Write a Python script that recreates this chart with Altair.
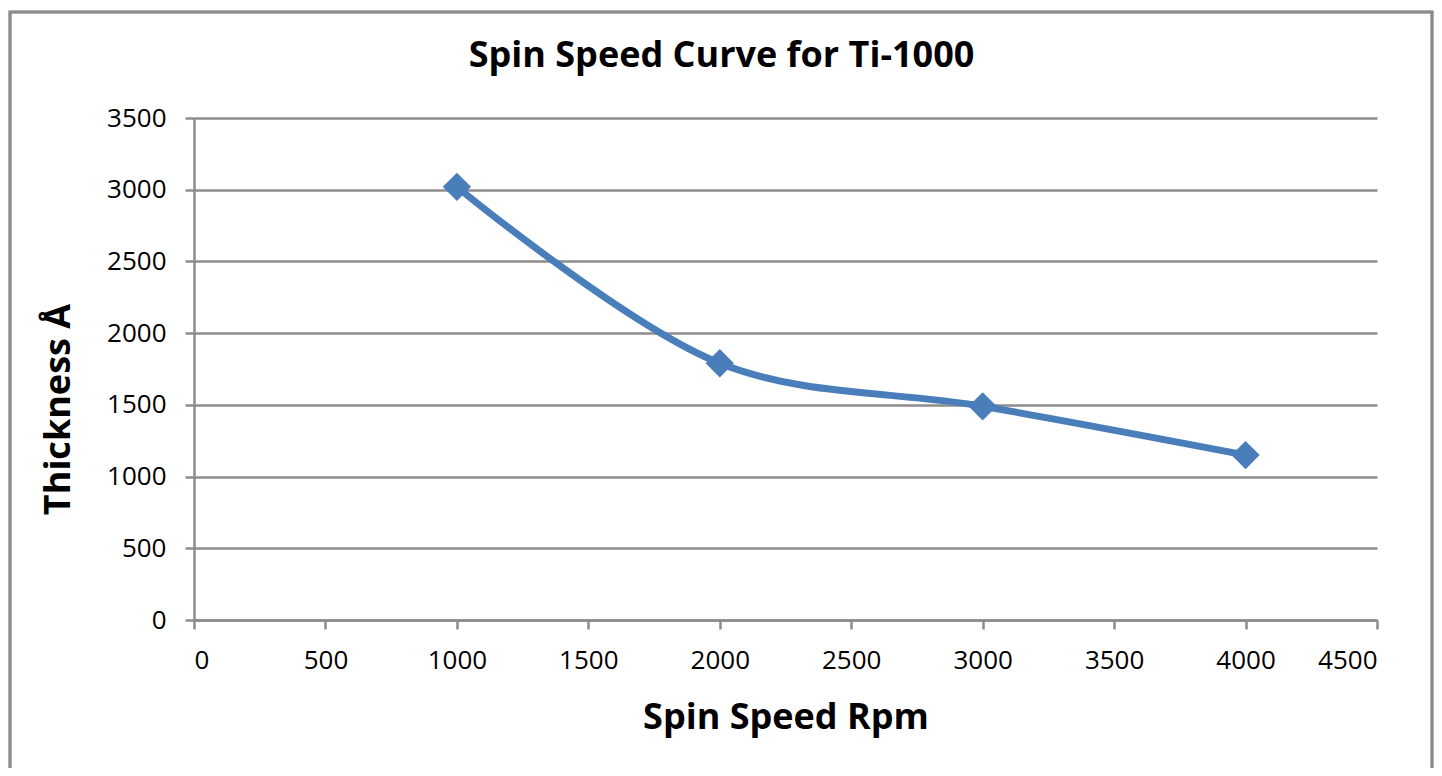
import altair as alt
import pandas as pd

spin_speed = [1000, 2000, 3000, 4000]
thickness = [3020, 1790, 1490, 1150]

df = pd.DataFrame({"speed": spin_speed, "thickness": thickness})

FONT = "Open Sans"
GRAY = "#8c8c8c"
BLUE = "#4A7EBB"

x_enc = alt.X(
    "speed:Q",
    scale=alt.Scale(domain=[0, 4500], nice=False),
    axis=alt.Axis(
        values=list(range(0, 4501, 500)),
        format="d",
        title="Spin Speed Rpm",
        grid=False,
        tickSize=9,
        labelPadding=18,
        titleY=97,
        titleBaseline="middle",
    ),
)
y_enc = alt.Y(
    "thickness:Q",
    scale=alt.Scale(domain=[0, 3500], nice=False),
    axis=alt.Axis(
        values=list(range(0, 3501, 500)),
        format="d",
        title="Thickness Å",
        grid=True,
        tickSize=9,
        labelPadding=19,
        titleX=-136,
        titleY=291,
        titleBaseline="middle",
        titleAngle=-90,
    ),
)

line = alt.Chart(df).mark_line(
    color=BLUE, strokeWidth=7, interpolate="catmull-rom"
).encode(x=x_enc, y=y_enc)

points = alt.Chart(df).mark_point(
    shape="diamond", filled=True, color=BLUE, size=800, opacity=1
).encode(x="speed:Q", y="thickness:Q")

border = alt.Chart(df).mark_rect(
    fill=None, stroke=GRAY, strokeWidth=2.5
).encode(
    x=alt.value(-184), x2=alt.value(1238), y=alt.value(-106), y2=alt.value(800)
)

chart = alt.layer(border, line, points).properties(
    width=1183,
    height=502,
    autosize=alt.AutoSizeParams(type="none"),
    padding={"left": 186, "top": 110, "right": 57, "bottom": 148},
    background="white",
    title=alt.TitleParams(
        "Spin Speed Curve for Ti-1000",
        font=FONT,
        fontSize=36,
        fontWeight="bold",
        color="#000000",
        anchor="middle",
        dx=-64,
        offset=-64,
    ),
).configure_view(stroke=None).configure_axis(
    domainColor=GRAY,
    domainWidth=2.5,
    tickColor=GRAY,
    tickWidth=2.5,
    gridColor=GRAY,
    gridWidth=2.5,
    labelFont=FONT,
    labelFontSize=26,
    labelColor="#000000",
    titleFont=FONT,
    titleFontSize=36,
    titleFontWeight="bold",
    titleColor="#000000",
)

chart.save("out.html", embed_options={"renderer": "svg", "actions": False})
